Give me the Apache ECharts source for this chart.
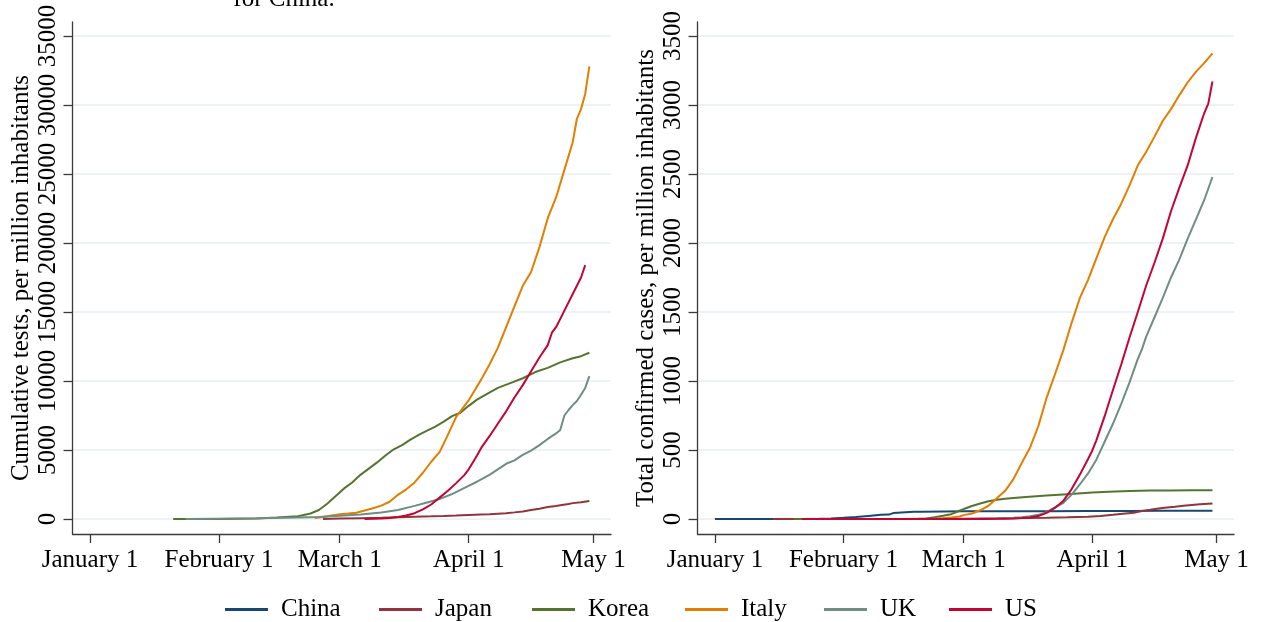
<!DOCTYPE html>
<html><head><meta charset="utf-8">
<script src="https://cdn.jsdelivr.net/npm/echarts@6/dist/echarts.min.js"></script>
<style>html,body{margin:0;padding:0;background:#fff}#c{width:1261px;height:622px}</style>
</head><body><div id="c"></div>
<script>
// x values are days since January 1, 2020 (0 = Jan 1)
const countries = ['China', 'Japan', 'Korea', 'Italy', 'UK', 'US'];
const tickLabels = ['January 1', 'February 1', 'March 1', 'April 1', 'May 1'];
const tickDays = [0, 31, 60, 91, 121];
const testsTicks = [0, 5000, 10000, 15000, 20000, 25000, 30000, 35000];
const casesTicks = [0, 500, 1000, 1500, 2000, 2500, 3000, 3500];
const testsTitle = 'Cumulative tests, per million inhabitants';
const casesTitle = 'Total confirmed cases, per million inhabitants';
const noteText = 'for China.';

// Cumulative tests per million
const testsJapan = [[56,0],[60,30],[65,60],[70,90],[74,130],[78,170],[82,195],[85,220],[88,250],[91,290],[94,320],[96,340],[98,380],[100,420],[102,480],[104,550],[106,650],[108,750],[110,870],[112,950],[113,1000],[115,1080],[116,1150],[118,1220],[120,1300]];
const testsKorea = [[20,0],[31,5],[40,40],[45,100],[50,200],[53,400],[55,650],[57,1100],[59,1650],[61,2200],[63,2650],[65,3200],[67,3650],[69,4100],[71,4600],[73,5050],[75,5350],[77,5750],[79,6100],[81,6400],[83,6700],[85,7050],[87,7450],[89,7700],[91,8200],[93,8650],[95,9000],[98,9500],[101,9850],[104,10200],[107,10650],[110,10950],[113,11350],[116,11650],[118,11800],[120,12050]];
const testsItaly = [[54,70],[56,150],[58,250],[60,340],[62,390],[64,450],[66,620],[68,780],[70,970],[72,1250],[74,1750],[76,2150],[78,2650],[80,3350],[82,4150],[84,4850],[86,6100],[88,7400],[90,8200],[91,8600],[92,9100],[94,10100],[96,11200],[98,12400],[100,13900],[102,15400],[104,16900],[106,17900],[108,19700],[110,21800],[112,23300],[114,25300],[116,27300],[117,29000],[118,29700],[119,30800],[120,32800]];
const testsUK = [[23,0],[30,20],[40,50],[50,110],[55,150],[60,230],[65,330],[70,470],[74,650],[78,950],[81,1200],[84,1450],[87,1800],[90,2250],[93,2700],[96,3200],[98,3600],[100,4000],[102,4250],[104,4650],[106,4950],[108,5350],[110,5800],[112,6200],[113,6450],[114,7500],[115,7900],[116,8250],[117,8550],[118,9000],[119,9500],[120,10350]];
const testsUS = [[66,0],[68,10],[70,30],[72,70],[74,140],[76,260],[78,420],[80,700],[82,1050],[84,1550],[86,2050],[88,2600],[90,3200],[91,3600],[92,4100],[93,4600],[94,5150],[96,6000],[98,6900],[100,7800],[102,8800],[104,9700],[106,10700],[108,11700],[110,12600],[111,13500],[112,13900],[114,15100],[116,16300],[118,17500],[119,18400]];

// Total confirmed cases per million
const casesChina = [[0,0],[21,0.4],[25,1],[28,4],[31,8.5],[34,14],[37,22],[40,30],[42,32],[43,43],[45,47],[48,52],[50,53],[55,55],[60,56],[70,56],[80,57],[90,58],[100,58],[107,59],[120,59]];
const casesJapan = [[14,0],[31,0.2],[45,0.5],[55,1.5],[60,2],[70,5],[80,9],[85,12],[90,17],[93,22],[96,30],[99,40],[101,45],[103,58],[105,67],[107,76],[109,84],[111,89],[113,96],[115,102],[117,106],[120,112]];
const casesKorea = [[19,0],[31,0.2],[45,0.6],[49,1],[51,4],[53,12],[55,23],[57,35],[59,60],[60,72],[62,94],[64,112],[66,129],[68,139],[70,146],[72,153],[75,160],[80,170],[85,180],[91,192],[95,198],[100,203],[105,206],[110,207],[115,208],[120,209]];
const casesItaly = [[30,0],[50,0.3],[53,2.5],[55,5],[57,10.5],[59,18],[60,28],[62,40],[64,63],[66,96],[68,150],[70,204],[72,289],[74,406],[76,517],[78,672],[80,878],[82,1047],[84,1220],[86,1418],[88,1600],[90,1733],[92,1889],[94,2042],[96,2172],[98,2285],[100,2418],[102,2563],[104,2660],[106,2769],[108,2884],[110,2970],[112,3070],[114,3163],[116,3240],[118,3303],[120,3374]];
const casesUK = [[30,0],[40,0.1],[55,0.2],[60,0.4],[64,1.2],[68,3.5],[72,9],[74,13],[76,20],[78,30],[80,50],[82,85],[84,115],[86,175],[88,250],[90,330],[92,430],[94,560],[96,690],[98,835],[100,990],[102,1160],[103,1230],[104,1320],[106,1460],[108,1600],[110,1750],[112,1880],[114,2030],[116,2170],[118,2310],[120,2478]];
const casesUS = [[21,0],[40,0.04],[60,0.1],[65,0.5],[68,1.2],[70,2.3],[72,4],[74,6.5],[76,11],[78,21],[80,44],[82,80],[84,130],[86,215],[88,320],[90,435],[91,495],[92,570],[94,745],[96,935],[98,1120],[100,1315],[102,1500],[104,1690],[106,1855],[108,2030],[110,2230],[112,2400],[114,2560],[116,2760],[118,2940],[119,3010],[120,3170]];

const testsData = {Japan: testsJapan, Korea: testsKorea, Italy: testsItaly, UK: testsUK, US: testsUS};
const casesData = {China: casesChina, Japan: casesJapan, Korea: casesKorea, Italy: casesItaly, UK: casesUK, US: casesUS};

const colorMap = {China:'#1a476f', Japan:'#90353b', Korea:'#55752f', Italy:'#e37e00', UK:'#6e8e84', US:'#c10534'};
const FONT = "'Liberation Serif', serif";
const FS = 25;
const axisColor = '#3a3a3a';

function xAxisCfg(gi) {
  return {
    type: 'value', gridIndex: gi, min: -4.2, max: 125.2,
    axisLine: {show: true, onZero: false, lineStyle: {color: axisColor, width: 1.3}},
    axisTick: {show: true, customValues: tickDays, length: 9, lineStyle: {color: axisColor, width: 1.3}},
    axisLabel: {customValues: tickDays, margin: 14, color: '#000', fontFamily: FONT, fontSize: FS,
      formatter: v => tickLabels[tickDays.indexOf(v)]},
    splitLine: {show: false}
  };
}
function yAxisCfg(gi, mn, mx, ticks, title) {
  return {
    type: 'value', gridIndex: gi, min: mn, max: mx,
    name: title, nameLocation: 'middle', nameGap: 39,
    nameTextStyle: {color: '#000', fontFamily: FONT, fontSize: FS},
    axisLine: {show: true, onZero: false, lineStyle: {color: axisColor, width: 1.3}},
    axisTick: {show: true, customValues: ticks, length: 9, lineStyle: {color: axisColor, width: 1.3}},
    axisLabel: {customValues: ticks, rotate: 90, margin: 12, color: '#000', fontFamily: FONT, fontSize: FS,
      formatter: v => String(v)},
    splitLine: {show: true, lineStyle: {color: '#e6eef2', width: 1.6}}
  };
}

const series = [];
countries.forEach(c => {
  if (testsData[c]) series.push({name: c, type: 'line', xAxisIndex: 0, yAxisIndex: 0, data: testsData[c],
    showSymbol: false, symbol: 'none', color: colorMap[c], lineStyle: {width: 2, color: colorMap[c]}});
});
countries.forEach(c => {
  series.push({name: c, type: 'line', xAxisIndex: 1, yAxisIndex: 1, data: casesData[c],
    showSymbol: false, symbol: 'none', color: colorMap[c], lineStyle: {width: 2, color: colorMap[c]}});
});

const legendLeft = [225, 379, 532, 685, 824, 949];
const legends = countries.map((c, i) => ({
  data: [c], left: legendLeft[i], top: 597, padding: 0, icon: 'rect', itemWidth: 43, itemHeight: 2.8,
  textStyle: {color: '#000', fontFamily: FONT, fontSize: FS, padding: [0, 0, 0, 8]}
}));

const chart = echarts.init(document.getElementById('c'), null, {renderer: 'canvas'});
chart.setOption({
  animation: false,
  backgroundColor: '#fff',
  grid: [
    {left: 72.5, right: 650, top: 22, bottom: 88},
    {left: 697.5, right: 27, top: 22, bottom: 88}
  ],
  xAxis: [xAxisCfg(0), xAxisCfg(1)],
  yAxis: [yAxisCfg(0, -1087, 36014, testsTicks, testsTitle), yAxisCfg(1, -108.7, 3601.4, casesTicks, casesTitle)],
  legend: legends,
  graphic: [{type: 'text', x: 284, y: 12, style: {text: noteText, fill: '#000', font: FS + 'px ' + FONT, textAlign: 'center', textVerticalAlign: 'bottom'}}],
  series: series
});
</script></body></html>
